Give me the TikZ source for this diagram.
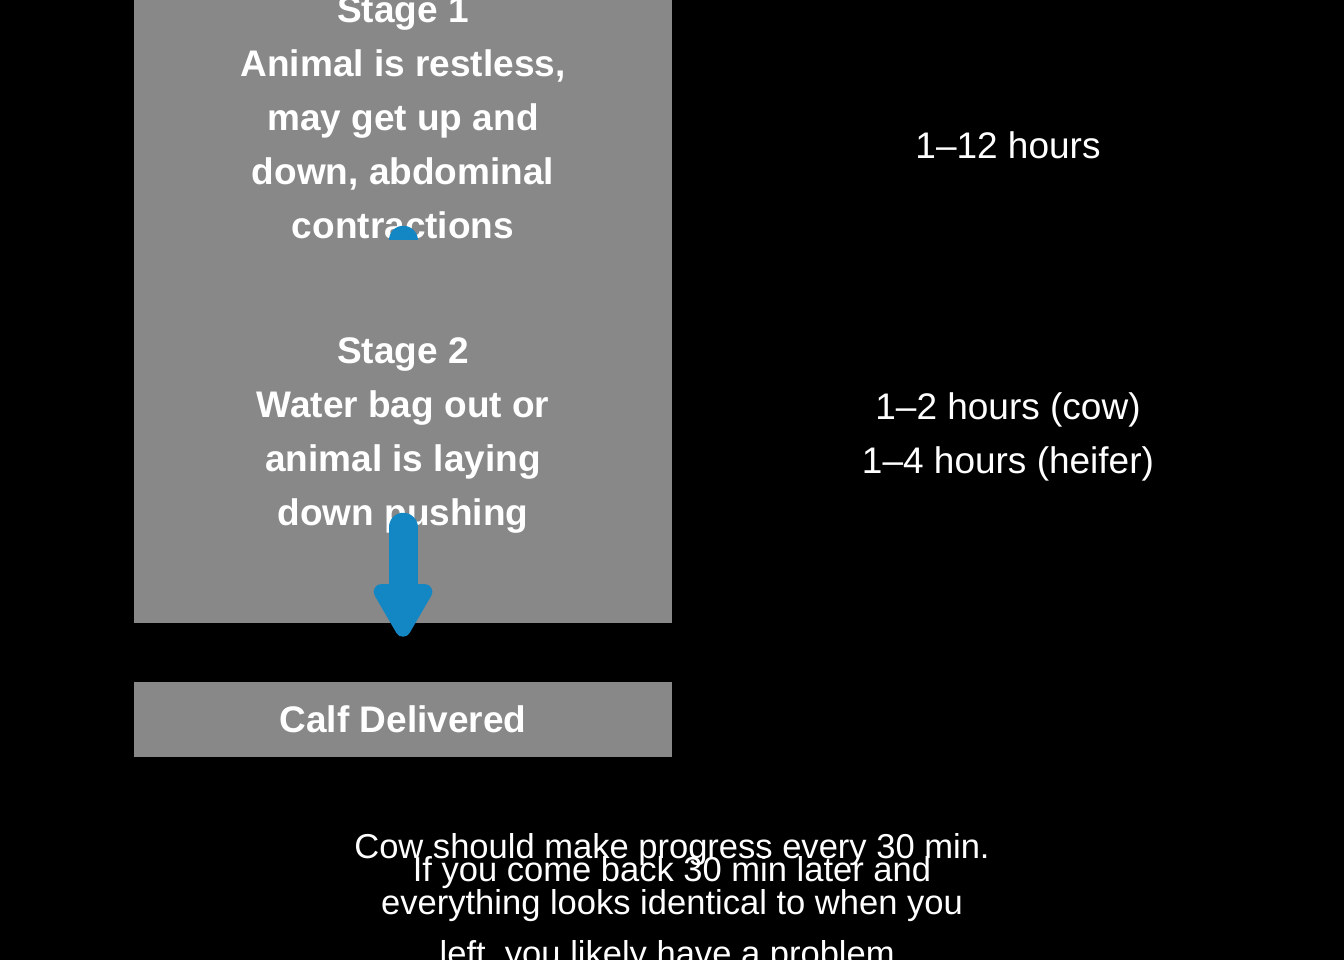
\documentclass[tikz,border=0pt]{standalone}
\usepackage{fontspec}
\setmainfont{Liberation Sans}
\usetikzlibrary{arrows.meta,calc}
\definecolor{boxgray}{HTML}{888888}
\definecolor{flowblue}{HTML}{1287C3}
\pgfdeclarelayer{lowest}
\pgfdeclarelayer{middle}
\pgfsetlayers{lowest,middle,main}
\begin{document}
\begin{tikzpicture}[x=0.75pt,y=-0.75pt,
  stagebox/.style={fill=boxgray, draw=none, minimum width=403.5pt, inner sep=0pt,
    text=white, align=center, text depth=0pt,
    font=\bfseries\fontsize{27.75pt}{40.5pt}\selectfont},
  sidetext/.style={text=white, align=center, inner sep=0pt, text depth=0pt,
    font=\fontsize{27.75pt}{40.5pt}\selectfont},
  notetext/.style={text=white, align=center, inner sep=0pt, text depth=0pt,
    font=\fontsize{25.9pt}{24.5pt}\selectfont},
  flow/.style={draw=flowblue, line width=21.75pt, line cap=round,
    -{Triangle[length=46pt, width=49pt, line width=14pt, round]}}]
\useasboundingbox (0,0) rectangle (1344,960);
\begin{pgfonlayer}{lowest}
  \fill[black] (0,0) rectangle (1344,960);
  \node[stagebox, minimum height=183pt] (s1) at (403,118)
    {Stage 1\\Animal is restless,\\may get up and\\down, abdominal\\contractions};
\end{pgfonlayer}
\node[stagebox, minimum height=287.25pt] (s2) at (403,431.5)
  {Stage 2\\Water bag out or\\animal is laying\\down pushing};
\node[stagebox, minimum height=56.25pt] (calf) at (403,719.5) {Calf Delivered};
\begin{pgfonlayer}{middle}
  \draw[flow] (s1.south) -- (s2.center);
\end{pgfonlayer}
\draw[flow] ($(s2.south)+(0,-96)$) -- ($(calf.north)+(0,-45)$);
\node[sidetext] (t1) at (1008,145) {1–12 hours};
\node[sidetext] (t2) at (1008,433) {1–2 hours (cow)\\1–4 hours (heifer)};
\node[notetext] (n1) at (672,846) {Cow should make progress every 30 min.};
\node[notetext, anchor=south] (n2) at (672,966)
  {If you come back 30 min later and\\everything looks identical to when you\\[14.25pt]left, you likely have a problem.};
\end{tikzpicture}
\end{document}
